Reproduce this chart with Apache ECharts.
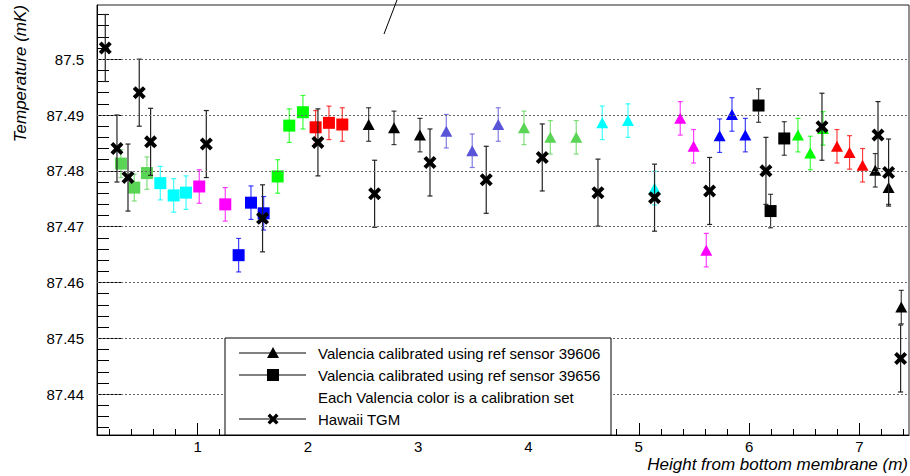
<!DOCTYPE html>
<html><head><meta charset="utf-8">
<script src="https://cdn.jsdelivr.net/npm/echarts@6/dist/echarts.min.js"></script>
<style>html,body{margin:0;padding:0;background:#fff}#c{width:910px;height:476px}</style>
</head><body><div id="c"></div>
<script>
// ---------------- data ----------------
const hawaiiX   = [0.163, 0.269, 0.369, 0.471, 0.574, 1.079, 1.589, 2.091, 2.605, 3.107, 3.617, 4.125, 4.630, 5.143, 5.642, 6.153, 6.661, 7.169, 7.265, 7.374];
const hawaiiY   = [87.5020, 87.4840, 87.4788, 87.4940, 87.4852, 87.4848, 87.4715, 87.4851, 87.4759, 87.4815, 87.4784, 87.4824, 87.4761, 87.4752, 87.4764, 87.4800, 87.4879, 87.4864, 87.4797, 87.4464];
const hawaiiErr = [0.006, 0.006, 0.006, 0.006, 0.006, 0.006, 0.006, 0.006, 0.006, 0.006, 0.006, 0.006, 0.006, 0.006, 0.006, 0.006, 0.006, 0.006, 0.006, 0.006];

// Valencia, ref sensor 39656 (squares), one sub-array per calibration set
const squareSets = ['lightgreen', 'cyan', 'magenta', 'blue', 'green', 'red', 'black'];
const squareX = [
  [0.305, 0.426, 0.541],
  [0.662, 0.783, 0.895],
  [1.015, 1.251],
  [1.372, 1.484, 1.599],
  [1.726, 1.831, 1.955],
  [2.070, 2.191, 2.312],
  [6.086, 6.195, 6.319]
];
const squareY = [
  [87.4813, 87.4770, 87.4796],
  [87.4778, 87.4756, 87.4761],
  [87.4772, 87.4740],
  [87.4649, 87.4743, 87.4724],
  [87.4790, 87.4881, 87.4905],
  [87.4878, 87.4886, 87.4883],
  [87.4917, 87.4728, 87.4858]
];
const squareErr = [
  [0.0025, 0.0024, 0.0029],
  [0.003, 0.003, 0.003],
  [0.003, 0.003],
  [0.003, 0.003, 0.003],
  [0.003, 0.003, 0.003],
  [0.003, 0.003, 0.003],
  [0.003, 0.003, 0.003]
];

// Valencia, ref sensor 39606 (triangles)
const triangleSets = ['black', 'slate', 'lightgreen', 'cyan', 'magenta', 'blue', 'green', 'red', 'black'];
const triangleX = [
  [2.551, 2.781, 3.016],
  [3.255, 3.490, 3.726],
  [3.959, 4.198, 4.433],
  [4.669, 4.902, 5.143],
  [5.376, 5.497, 5.612],
  [5.733, 5.845, 5.966],
  [6.443, 6.555, 6.670],
  [6.797, 6.911, 7.029],
  [7.144, 7.265, 7.380]
];
const triangleY = [
  [87.4883, 87.4877, 87.4864],
  [87.4871, 87.4836, 87.4883],
  [87.4877, 87.4860, 87.4860],
  [87.4886, 87.4890, 87.4769],
  [87.4894, 87.4844, 87.4658],
  [87.4863, 87.4901, 87.4864],
  [87.4864, 87.4832, 87.4876],
  [87.4844, 87.4833, 87.4810],
  [87.4801, 87.4770, 87.4556]
];
const triangleErr = [
  [0.003, 0.003, 0.003],
  [0.003, 0.003, 0.003],
  [0.003, 0.003, 0.003],
  [0.003, 0.003, 0.003],
  [0.003, 0.003, 0.003],
  [0.003, 0.003, 0.003],
  [0.003, 0.003, 0.003],
  [0.003, 0.003, 0.003],
  [0.003, 0.003, 0.003]
];

const xTickLabels = [1, 2, 3, 4, 5, 6, 7];
const yTickLabels = [87.44, 87.45, 87.46, 87.47, 87.48, 87.49, 87.5];
const legendLabels = [
  'Valencia calibrated using ref sensor 39606',
  'Valencia calibrated using ref sensor 39656',
  'Each Valencia color is a calibration set',
  'Hawaii TGM'
];
const xTitle = 'Height from bottom membrane (m)';
const yTitle = 'Temperature (mK)';

// ---------------- style ----------------
const FONT = "'Liberation Sans', Arial, Helvetica, sans-serif";
const setColor = {
  lightgreen: '#59d454', cyan: '#00ffff', magenta: '#ff00ff', blue: '#0000ff',
  green: '#00ff00', red: '#ff0000', black: '#000000', slate: '#5954d8'
};
const X_POLY = [[0,2.6],[2.6,0],[6,3.4],[9.4,0],[12,2.6],[8.6,6],[12,9.4],[9.4,12],[6,8.6],[2.6,12],[0,9.4],[3.4,6]];
const X_PATH = 'path://M' + X_POLY.map(p => p[0] + ',' + p[1]).join(' L') + ' Z';
const xMin = 0.088, xMax = 7.45, yMin = 87.4327, yMax = 87.5097;

const xMinor = [], yMinor = [];
for (let i = 1; i <= 37; i++) { if (i % 5 !== 0) xMinor.push(+(i * 0.2).toFixed(1)); }
for (let i = 0; i <= 37; i++) { const v = +(87.434 + i * 0.002).toFixed(3); if (Math.round(v * 1000) % 10 !== 0) yMinor.push(v); }

function errSeries(name, xs, ys, es, color, opacity, z) {
  return {
    type: 'custom', name: name, z: z, silent: true,
    xAxisIndex: 0, yAxisIndex: 0,
    encode: { x: 0, y: 1 },
    data: xs.map((x, i) => [x, ys[i], es[i]]),
    renderItem: function (params, api) {
      const x = api.value(0), y = api.value(1), e = api.value(2);
      const t = api.coord([x, y + e]), b = api.coord([x, y - e]);
      const w = 2.5;
      const st = { stroke: color, lineWidth: 1.2, opacity: opacity };
      return { type: 'group', children: [
        { type: 'line', shape: { x1: t[0], y1: t[1], x2: b[0], y2: b[1] }, style: st },
        { type: 'line', shape: { x1: t[0] - w, y1: t[1], x2: t[0] + w, y2: t[1] }, style: st },
        { type: 'line', shape: { x1: b[0] - w, y1: b[1], x2: b[0] + w, y2: b[1] }, style: st }
      ]};
    }
  };
}
function markSeries(name, xs, ys, symbol, size, color, z) {
  return {
    type: 'scatter', name: name, z: z, symbol: symbol, symbolSize: size,
    xAxisIndex: 0, yAxisIndex: 0,
    itemStyle: { color: color, opacity: 1 },
    data: xs.map((x, i) => [x, ys[i]])
  };
}

const series = [];
// grid lines
series.push({
  type: 'scatter', data: [], z: 1, silent: true,
  markLine: {
    silent: true, symbol: 'none', animation: false,
    label: { show: false },
    lineStyle: { color: '#666', width: 1, type: [2, 2] },
    data: yTickLabels.map(v => ({ yAxis: v }))
  }
});
squareSets.forEach((s, k) => {
  series.push(errSeries('sqerr' + k, squareX[k], squareY[k], squareErr[k], setColor[s], 0.75, 2));
  series.push(markSeries(legendLabels[1], squareX[k], squareY[k], 'rect', 12, setColor[s], 3));
});
triangleSets.forEach((s, k) => {
  series.push(errSeries('trierr' + k, triangleX[k], triangleY[k], triangleErr[k], setColor[s], 0.75, 2));
  series.push(markSeries(legendLabels[0], triangleX[k], triangleY[k], 'triangle', [12, 11], setColor[s], 3));
});
series.push(errSeries('hawerr', hawaiiX, hawaiiY, hawaiiErr, '#222', 1, 4));
series.push(markSeries(legendLabels[3], hawaiiX, hawaiiY, X_PATH, 13, '#000', 5));

const labelFmt = v => String(Math.round(v * 1000) / 1000);

// legend graphics
const legRows = [353, 375, 397, 419];
const lx1 = 239, lx2 = 306, lm = 273, lt = 318;
const legend = [
  { type: 'rect', shape: { x: 225, y: 338, width: 386, height: 97 }, style: { fill: '#fff', stroke: '#000', lineWidth: 1 }, z: 100 }
];
legendLabels.forEach((t, i) => {
  const y = legRows[i];
  legend.push({ type: 'text', x: lt, y: y, z: 101, style: { text: t, font: '15px ' + FONT, fill: '#000', align: 'left', verticalAlign: 'middle' } });
  if (i === 2) return;
  legend.push({ type: 'line', z: 101, shape: { x1: lx1, y1: y, x2: lx2, y2: y }, style: { stroke: '#000', lineWidth: 1 } });
  if (i === 0) legend.push({ type: 'polygon', z: 102, shape: { points: [[lm - 6, y + 5], [lm + 6, y + 5], [lm, y - 6]] }, style: { fill: '#000' } });
  if (i === 1) legend.push({ type: 'rect', z: 102, shape: { x: lm - 6, y: y - 6, width: 12, height: 12 }, style: { fill: '#000' } });
  if (i === 3) legend.push({ type: 'polygon', z: 102, shape: { points: X_POLY.map(p => [lm - 5.5 + p[0] * 0.92, y - 5.5 + p[1] * 0.92]) }, style: { fill: '#000' } });
});

const graphic = legend.concat([
  { type: 'text', x: 908, y: 464, z: 101, style: { text: xTitle, font: 'italic 17px ' + FONT, fill: '#000', align: 'right', verticalAlign: 'middle' } },
  { type: 'text', x: 20, y: 5, rotation: Math.PI / 2, z: 101, style: { text: yTitle, font: 'italic 17px ' + FONT, fill: '#000', align: 'right', verticalAlign: 'middle' } },
  { type: 'line', z: 101, shape: { x1: 384, y1: 34, x2: 397, y2: 0 }, style: { stroke: '#000', lineWidth: 1 } }
]);

const axisCommon = { type: 'value', min: xMin, max: xMax, splitLine: { show: false } };
const option = {
  animation: false,
  backgroundColor: '#fff',
  grid: { left: 97, right: 1, top: 5, bottom: 41, show: true, borderColor: '#222', borderWidth: 1, containLabel: false },
  xAxis: [
    Object.assign({}, axisCommon, {
      position: 'bottom',
      axisLine: { show: true, lineStyle: { color: '#000', width: 1 } },
      axisTick: { show: true, inside: true, length: 12, customValues: xTickLabels, lineStyle: { color: '#000' } },
      axisLabel: { show: true, customValues: xTickLabels, margin: 4, fontFamily: FONT, fontSize: 15, color: '#000', formatter: labelFmt }
    }),
    Object.assign({}, axisCommon, {
      position: 'bottom',
      axisLine: { show: false },
      axisTick: { show: true, inside: true, length: 6, customValues: xMinor, lineStyle: { color: '#000' } },
      axisLabel: { show: false }
    })
  ],
  yAxis: [
    {
      type: 'value', min: yMin, max: yMax, position: 'left', splitLine: { show: false },
      axisLine: { show: true, lineStyle: { color: '#000', width: 1 } },
      axisTick: { show: true, inside: true, length: 24, customValues: yTickLabels, lineStyle: { color: '#000' } },
      axisLabel: { show: true, customValues: yTickLabels, margin: 13, fontFamily: FONT, fontSize: 15, color: '#000', formatter: labelFmt }
    },
    {
      type: 'value', min: yMin, max: yMax, position: 'left', splitLine: { show: false },
      axisLine: { show: false },
      axisTick: { show: true, inside: true, length: 12, customValues: yMinor, lineStyle: { color: '#000' } },
      axisLabel: { show: false }
    }
  ],
  series: series,
  graphic: graphic
};
const chart = echarts.init(document.getElementById('c'), null, { renderer: 'svg' });
chart.setOption(option);
</script>
</body></html>
